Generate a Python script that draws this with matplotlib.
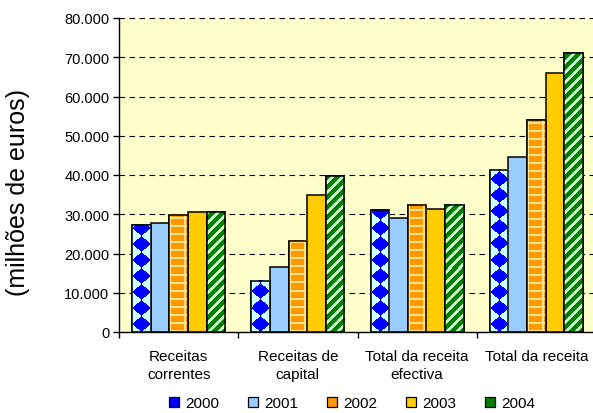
import numpy as np
import matplotlib.pyplot as plt
from matplotlib.patches import Patch

plt.rcParams["font.family"] = ["Liberation Sans", "DejaVu Sans"]

# receitas por categoria e ano (milhões de euros)
categories = ["Receitas\ncorrentes", "Receitas de\ncapital",
              "Total da receita\nefectiva", "Total da receita"]
years = ["2000", "2001", "2002", "2003", "2004"]

v2000 = [27200, 13100, 31000, 41300]
v2001 = [27700, 16500, 29000, 44700]
v2002 = [29900, 23200, 32400, 53900]
v2003 = [30500, 34800, 31300, 66000]
v2004 = [30500, 39700, 32400, 71000]

base_colors = ["#0000FF", "#99CCFF", "#FF9900", "#FFCC00", "#008000"]
light_colors = ["#CCFFFF", None, "#FFE38A", None, "#CCFFCC"]

yticks = list(range(0, 80001, 10000))


def diamonds(u, v, w):
    p = 16.0
    fu = np.abs(u / w - 0.5) * 2
    fv = np.abs((v / p) % 1 - 0.5) * 2
    return (fu + fv) > 1.0


def grid(u, v, w):
    return ((u % 15) < 2.0) | ((v % 8) < 2.0)


def stripes(u, v, w):
    return ((u - v) % 10) < 3.2


patterns = [diamonds, None, grid, None, stripes]


def hex_rgb(c):
    c = c.lstrip("#")
    return np.array([int(c[i:i + 2], 16) / 255 for i in (0, 2, 4)])


fig = plt.figure(figsize=(5.93, 4.14), dpi=100)
ax = fig.add_axes([119 / 593, 81 / 414, (596 - 119) / 593, (333 - 19) / 414])
ax.set_facecolor("#FFFFCC")

x = np.arange(len(categories))
width = 0.156
series = [v2000, v2001, v2002, v2003, v2004]

ax.set_xlim(-0.5, len(categories) - 0.5)
ax.set_ylim(0, 80000)

bar_sets = []
for k, vals in enumerate(series):
    pos = x + (k - 2) * width
    bars = ax.bar(pos, vals, width, color=base_colors[k], edgecolor="black",
                  linewidth=1.1, zorder=2)
    bar_sets.append(bars)

# preenchimento com padrão (losangos, quadriculado, riscas)
for k, bars in enumerate(bar_sets):
    func = patterns[k]
    if func is None:
        continue
    c_base = hex_rgb(base_colors[k])
    c_light = hex_rgb(light_colors[k])
    for rect in bars:
        bx, bw, bh = rect.get_x(), rect.get_width(), rect.get_height()
        (px0, py0) = ax.transData.transform((bx, 0))
        (px1, py1) = ax.transData.transform((bx + bw, bh))
        nx = max(int(round(px1 - px0)), 1)
        ny = max(int(round(py1 - py0)), 1)
        u, v = np.meshgrid(np.arange(nx) + 0.5, np.arange(ny) + 0.5)
        mask = func(u, v, nx)
        img = np.where(mask[..., None], c_light, c_base)
        ax.imshow(img, extent=(bx, bx + bw, 0, bh), origin="lower",
                  aspect="auto", interpolation="nearest", zorder=2.2)
    centers = [r.get_x() + r.get_width() / 2 for r in bars]
    ax.bar(centers, bars.datavalues, width, fill=False, edgecolor="black",
           linewidth=1.1, zorder=3)

ax.set_xlim(-0.5, len(categories) - 0.5)
ax.set_ylim(0, 80000)

# eixos e grelha
ax.set_yticks(yticks)
ax.set_yticklabels([f"{t:,}".replace(",", ".") for t in yticks])
ax.yaxis.grid(True, color="black", linewidth=0.8, linestyle=(0, (5, 4)))
ax.set_axisbelow(True)

ax.set_xticks(x)
ax.set_xticklabels(categories, linespacing=1.35)
ax.set_xticks(np.arange(-0.5, len(categories), 1.0), minor=True)
ax.tick_params(axis="x", which="major", length=0, pad=12, labelsize=11)
ax.tick_params(axis="x", which="minor", length=4, width=1, direction="out")
ax.tick_params(axis="y", length=4, width=1, direction="out", pad=3,
               labelsize=10.5)

for side in ["top", "right"]:
    ax.spines[side].set_visible(False)
for side in ["left", "bottom"]:
    ax.spines[side].set_color("black")
    ax.spines[side].set_linewidth(1)

fig.text(18 / 593, 0.536, "(milhões de euros)", rotation=90, fontsize=18,
         ha="center", va="center")

handles = [Patch(facecolor=base_colors[k], edgecolor="black", linewidth=0.9)
           for k in range(len(years))]
fig.legend(handles, years, loc="center", bbox_to_anchor=(0.594, 0.024),
           ncol=5, frameon=False, fontsize=11, handlelength=0.65,
           handleheight=0.65, handletextpad=0.4, columnspacing=1.9)

fig.savefig("out.png", dpi=100)
